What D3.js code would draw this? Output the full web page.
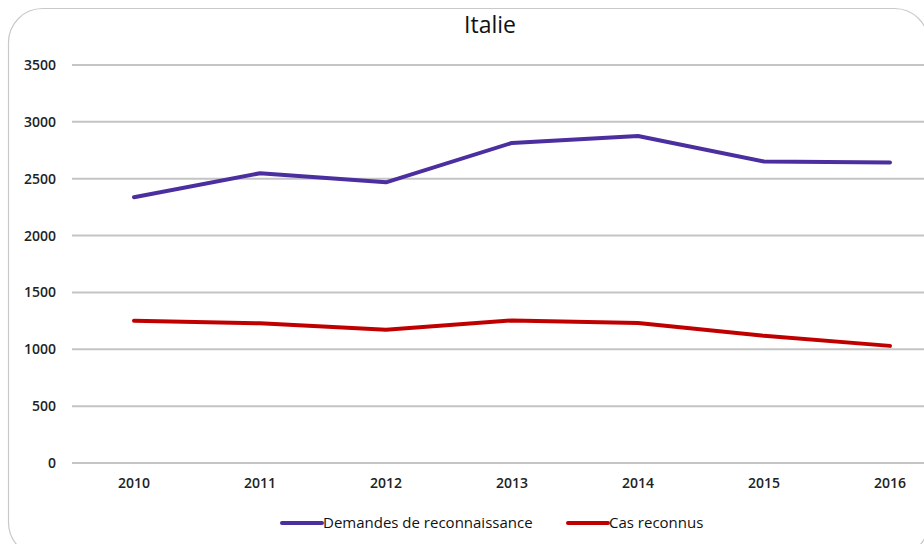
<!DOCTYPE html>
<html><head><meta charset="utf-8">
<script src="https://cdn.jsdelivr.net/npm/d3@7"></script>
<style>body{margin:0;background:#fff;}svg{display:block;}</style>
</head><body>
<script>
const years = ["2010","2011","2012","2013","2014","2015","2016"];
const demandes = [2337, 2548, 2468, 2815, 2876, 2652, 2643];
const reconnus = [1252, 1228, 1172, 1254, 1232, 1118, 1030];
const yTicks = [0, 500, 1000, 1500, 2000, 2500, 3000, 3500];
const seriesNames = ["Demandes de reconnaissance", "Cas reconnus"];
const seriesColors = ["#4b2f9f", "#c00000"];
const title = "Italie";

const W = 924, H = 544;
const font = "'Open Sans',sans-serif";
const svg = d3.select("body").append("svg").attr("width", W).attr("height", H);

svg.append("rect").attr("x", 8.5).attr("y", 8.5).attr("width", 920).attr("height", 548)
  .attr("rx", 34).attr("fill", "#fff").attr("stroke", "#c9c9c9").attr("stroke-width", 1.2);

svg.append("text").attr("x", 490).attr("y", 33).attr("text-anchor", "middle")
  .attr("font-family", font).attr("font-size", 23).attr("fill", "#111").text(title);

const x = d3.scaleBand().domain(years).range([71, 953]);
const y = d3.scaleLinear().domain([0, 3500]).range([463, 65]);

const grid = svg.append("g");
grid.selectAll("line").data(yTicks).join("line")
  .attr("x1", 72).attr("x2", W).attr("y1", d => y(d)).attr("y2", d => y(d))
  .attr("stroke", "#c4c4c6").attr("stroke-width", 2);

const yAxis = svg.append("g").attr("transform", "translate(60,0)")
  .call(d3.axisLeft(y).tickValues(yTicks).tickSize(0).tickPadding(4).tickFormat(d3.format("d")));
yAxis.select(".domain").remove();
yAxis.selectAll("text").attr("font-family", font).attr("font-size", 14).attr("font-weight", 600).attr("fill", "#222");

const xAxis = svg.append("g").attr("transform", "translate(0,463)")
  .call(d3.axisBottom(x).tickSize(0).tickPadding(15));
xAxis.select(".domain").remove();
xAxis.selectAll("text").attr("font-family", font).attr("font-size", 14).attr("font-weight", 600).attr("fill", "#222");

const line = d3.line().x((d, i) => x(years[i]) + x.bandwidth() / 2).y(d => y(d));
[demandes, reconnus].forEach((s, k) => {
  svg.append("path").datum(s).attr("d", line).attr("fill", "none")
    .attr("stroke", seriesColors[k]).attr("stroke-width", 4)
    .attr("stroke-linejoin", "round").attr("stroke-linecap", "round");
});

const legendX = [282, 568];
seriesNames.forEach((n, k) => {
  const g = svg.append("g").attr("transform", `translate(${legendX[k]},523)`);
  g.append("line").attr("x1", 0).attr("x2", 40).attr("stroke", seriesColors[k]).attr("stroke-width", 4).attr("stroke-linecap", "round");
  g.append("text").attr("x", 41).attr("y", 5).attr("font-family", font).attr("font-size", 15).attr("fill", "#111").text(n);
});
</script>
</body></html>
